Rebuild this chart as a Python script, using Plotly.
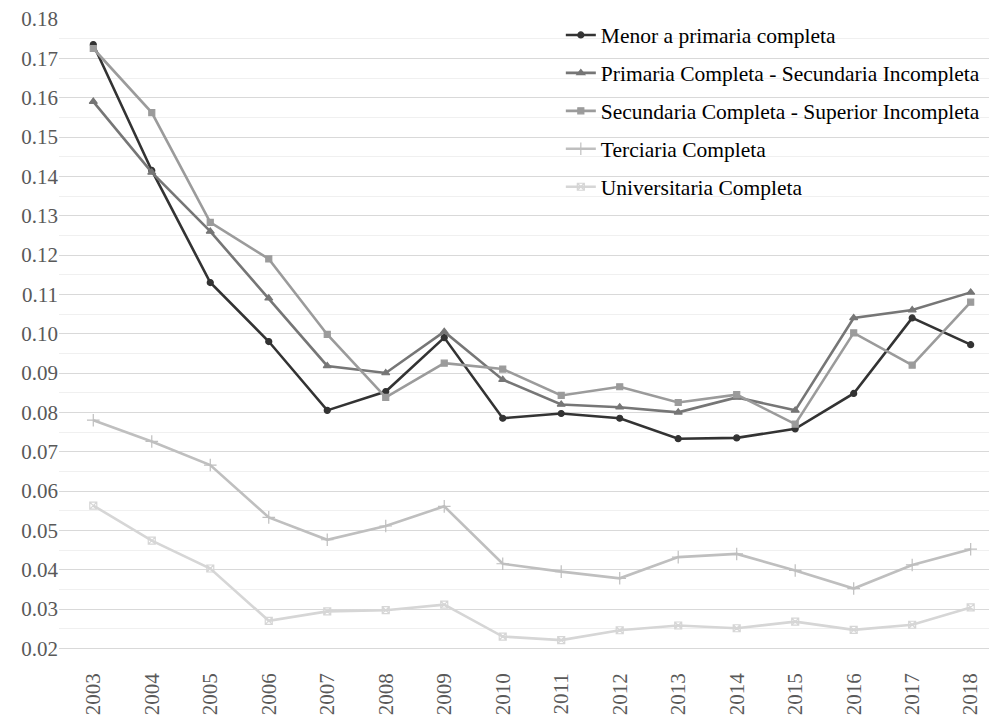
import plotly.graph_objects as go

years = [str(y) for y in range(2003, 2019)]

menor = [0.1735, 0.1415, 0.113, 0.098, 0.0805, 0.0853, 0.099, 0.0785, 0.0797, 0.0785,
         0.0733, 0.0735, 0.0758, 0.0848, 0.104, 0.0972]
primaria = [0.159, 0.141, 0.126, 0.109, 0.0918, 0.0900, 0.1005, 0.0883, 0.082, 0.0813,
            0.080, 0.0838, 0.0805, 0.104, 0.106, 0.1105]
secundaria = [0.1725, 0.1562, 0.1283, 0.119, 0.0998, 0.0838, 0.0925, 0.091, 0.0843, 0.0865,
              0.0825, 0.0845, 0.077, 0.1002, 0.092, 0.108]
terciaria = [0.078, 0.0726, 0.0666, 0.0533, 0.0476, 0.0511, 0.0561, 0.0415, 0.0395, 0.0378,
             0.0432, 0.044, 0.0398, 0.0352, 0.0412, 0.0452]
universitaria = [0.0563, 0.0474, 0.0403, 0.0270, 0.0294, 0.0297, 0.0311, 0.0230, 0.0221, 0.0246,
                 0.0258, 0.0251, 0.0268, 0.0247, 0.0260, 0.0304]

names = ["Menor a primaria completa",
         "Primaria Completa - Secundaria Incompleta",
         "Secundaria Completa - Superior Incompleta",
         "Terciaria Completa",
         "Universitaria Completa"]
series = [menor, primaria, secundaria, terciaria, universitaria]
colors = ["#333333", "#767676", "#9b9b9b", "#bfbfbf", "#d6d6d6"]
symbols = ["circle", "triangle-up", "square", "cross-thin", "square-x-open"]
msizes = [6, 7, 6, 9, 7]

FONT = "Times New Roman, Liberation Serif, DejaVu Serif, serif"

fig = go.Figure()
for i, (n, s) in enumerate(zip(names, series)):
    fig.add_trace(go.Scatter(
        x=years, y=s, name=n, mode="lines+markers",
        line=dict(color=colors[i], width=2.6),
        marker=dict(symbol=symbols[i], size=msizes[i], color=colors[i],
                    line=dict(color=colors[i], width=1.2)),
        legendgroup=f"g{i}",
    ))

fig.update_layout(
    width=989, height=711,
    margin=dict(l=51, r=0, t=11, b=51),
    paper_bgcolor="white", plot_bgcolor="white",
    font=dict(family=FONT, size=21, color="#595959"),
    showlegend=True,
    legend=dict(x=0.535, y=1.007, xanchor="left", yanchor="top",
                bgcolor="rgba(0,0,0,0)", tracegroupgap=7,
                font=dict(family=FONT, size=21.5, color="#000000"), itemwidth=30),
    xaxis=dict(type="category", range=[-0.586, 15.45], showgrid=False, automargin=False,
               tickangle=-90, ticks="", showline=False, zeroline=False,
               tickfont=dict(family=FONT, size=21, color="#595959")),
    yaxis=dict(range=[0.015, 0.18], dtick=0.01, tick0=0, tickformat=".2f", automargin=False,
               showgrid=True, gridcolor="#d9d9d9", gridwidth=1, ticklabeloverflow="allow",
               zeroline=False, showline=False, ticks="",
               tickfont=dict(family=FONT, size=21, color="#595959"),
               minor=dict(dtick=0.005, tick0=0.005, showgrid=True, gridcolor="#f0f0f0", gridwidth=1)),
)

fig.write_html("out.html")
